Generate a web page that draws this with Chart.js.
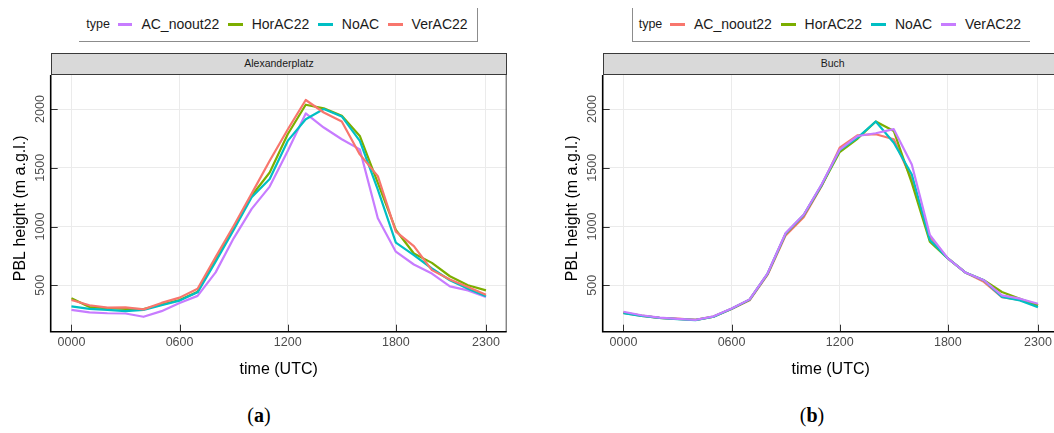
<!DOCTYPE html>
<html>
<head>
  <meta charset="UTF-8">
  <title>PBL height</title>
  <script src="https://cdn.jsdelivr.net/npm/chart.js"></script>
  <style>
    body { margin: 0; width: 1054px; height: 433px; overflow: hidden; background: #fff; position: relative;
           font-family: "Liberation Sans", Arial, sans-serif; }
    .legend { position: absolute; top: 8px; height: 33.7px; box-sizing: border-box; border: 0 solid #8c8c8c;
              display: flex; align-items: center; font-size: 14px; color: #1a1a1a; }
    .legend .title { font-size: 12.5px; margin-right: 8px; }
    .legend .key { width: 17px; height: 2.6px; margin-right: 9px; }
    .legend .lab { margin-right: 9px; white-space: nowrap; }
    .strip { position: absolute; top: 53.3px; height: 21.7px; box-sizing: border-box; background: #d9d9d9;
             border: 1px solid #3a3a3a; font-size: 10.5px; color: #1a1a1a; text-align: center; line-height: 19.5px; z-index: 2; }
    canvas { position: absolute; top: 53px; }
    .cap { position: absolute; top: 404px; font-family: "Liberation Serif", "DejaVu Serif", serif; font-size: 20px; transform: translateX(-50%); }
  </style>
</head>
<body>
  <div class="legend" id="legendA" style="left:79.3px; width:398.4px; padding-left:7px; border-right-width:1px; border-bottom-width:1px;"></div>
  <div class="legend" id="legendB" style="left:631.7px; width:398.3px; padding-left:6px; border-left-width:1px; border-bottom-width:1px;"></div>

  <div class="strip" style="left:50.7px; width:456.5px;">Alexanderplatz</div>
  <div class="strip" style="left:602.7px; width:460px;">Buch</div>

  <canvas id="chartA" width="520" height="335" style="left:0px;"></canvas>
  <canvas id="chartB" width="520" height="335" style="left:552px;"></canvas>

  <div class="cap" style="left:259px;">(<b>a</b>)</div>
  <div class="cap" style="left:812px;">(<b>b</b>)</div>

  <script>
    // hours of the day (UTC)
    const hours = [0, 1, 2, 3, 4, 5, 6, 7, 8, 9, 10, 11, 12, 13, 14, 15, 16, 17, 18, 19, 20, 21, 22, 23];
    const xTickValues = [0, 6, 12, 18, 23];
    const xTickLabels = ['0000', '0600', '1200', '1800', '2300'];
    const yTickValues = [500, 1000, 1500, 2000];
    const seriesNames = ['AC_noout22', 'HorAC22', 'NoAC', 'VerAC22'];

    // Alexanderplatz
    const alexAC_noout22 = [290, 270, 262, 260, 232, 280, 350, 410, 610, 900, 1150, 1340, 1643, 1963, 1843, 1743, 1657, 1071, 786, 677, 600, 491, 457, 400];
    const alexHorAC22    = [390, 315, 305, 300, 297, 337, 375, 445, 720, 985, 1262, 1460, 1786, 2037, 2006, 1943, 1771, 1371, 971, 771, 691, 577, 500, 457];
    const alexNoAC       = [320, 300, 290, 280, 290, 330, 370, 440, 700, 970, 1250, 1405, 1729, 1914, 2000, 1937, 1729, 1314, 863, 757, 643, 543, 471, 406];
    const alexVerAC22    = [375, 330, 310, 312, 295, 350, 395, 470, 740, 1005, 1280, 1560, 1826, 2077, 1971, 1894, 1614, 1429, 957, 834, 629, 549, 486, 420];

    // Buch
    const buchAC_noout22 = [265, 240, 222, 216, 206, 232, 298, 372, 590, 925, 1080, 1345, 1671, 1777, 1786, 1743, 1400, 914, 729, 606, 529, 400, 376, 329];
    const buchHorAC22    = [268, 243, 223, 213, 206, 234, 300, 377, 598, 938, 1095, 1350, 1634, 1749, 1894, 1814, 1371, 871, 729, 606, 543, 443, 386, 329];
    const buchNoAC       = [262, 240, 222, 212, 204, 232, 300, 378, 600, 940, 1098, 1355, 1651, 1757, 1894, 1714, 1443, 886, 729, 606, 543, 400, 371, 314];
    const buchVerAC22    = [275, 245, 225, 214, 206, 236, 302, 380, 602, 945, 1100, 1360, 1655, 1771, 1794, 1829, 1529, 929, 729, 606, 543, 414, 386, 343];

    const salmon = '#F8766D', green = '#7CAE00', cyan = '#00BFC4', purple = '#C77CFF';
    const FONT = '"Liberation Sans", Arial, sans-serif';

    // ticks point into the panel, labels and titles drawn by hand
    const panelAxes = {
      id: 'panelAxes',
      afterDatasetsDraw(chart) {
        const { ctx, chartArea: a, scales: { x, y } } = chart;
        ctx.save();
        ctx.strokeStyle = '#333';
        ctx.lineWidth = 1;
        x.ticks.forEach(t => {
          const px = Math.round(x.getPixelForValue(t.value)) + 0.5;
          ctx.beginPath(); ctx.moveTo(px, a.bottom); ctx.lineTo(px, a.bottom - 7); ctx.stroke();
        });
        y.ticks.forEach(t => {
          const py = Math.round(y.getPixelForValue(t.value)) + 0.5;
          ctx.beginPath(); ctx.moveTo(a.left, py); ctx.lineTo(a.left + 7, py); ctx.stroke();
        });

        // frame
        ctx.strokeStyle = '#4d4d4d';
        ctx.beginPath(); ctx.moveTo(a.right - 0.5, a.top); ctx.lineTo(a.right - 0.5, a.bottom); ctx.stroke();
        ctx.strokeStyle = '#000';
        ctx.lineWidth = 1.6;
        ctx.beginPath(); ctx.moveTo(a.left, a.top); ctx.lineTo(a.left, a.bottom); ctx.lineTo(a.right, a.bottom); ctx.stroke();

        // tick labels
        ctx.fillStyle = '#4d4d4d';
        ctx.font = '12.5px ' + FONT;
        ctx.textAlign = 'center';
        ctx.textBaseline = 'middle';
        x.ticks.forEach((t, i) => ctx.fillText(xTickLabels[i], x.getPixelForValue(t.value), a.bottom + 11));
        y.ticks.forEach(t => {
          ctx.save();
          ctx.translate(a.left - 9.7, y.getPixelForValue(t.value));
          ctx.rotate(-Math.PI / 2);
          ctx.fillText(String(t.value), 0, 0);
          ctx.restore();
        });

        // axis titles
        ctx.fillStyle = '#000';
        ctx.font = '16px ' + FONT;
        ctx.fillText('time (UTC)', (a.left + a.right) / 2, a.bottom + 37.5);
        ctx.save();
        ctx.translate(a.left - 30.5, (a.top + a.bottom) / 2 + 5);
        ctx.rotate(-Math.PI / 2);
        ctx.fillText('PBL height (m a.g.l.)', 0, 0);
        ctx.restore();
        ctx.restore();
      }
    };

    function makeChart(canvasId, values, colors) {
      const ctx = document.getElementById(canvasId).getContext('2d');
      return new Chart(ctx, {
        type: 'line',
        data: {
          datasets: seriesNames.map((name, i) => ({
            label: name,
            data: hours.map((h, j) => ({ x: h, y: values[i][j] })),
            borderColor: colors[i],
            borderWidth: 2.2,
            borderJoinStyle: 'round',
            pointRadius: 0,
            tension: 0,
            fill: false,
            order: 4 - i
          }))
        },
        options: {
          responsive: false,
          animation: false,
          devicePixelRatio: 1,
          layout: { padding: { left: 50.7, right: 13.3, top: 22, bottom: 56.3 } },
          plugins: { legend: { display: false }, tooltip: { enabled: false } },
          scales: {
            x: {
              type: 'linear',
              min: -1.15,
              max: 24.15,
              afterBuildTicks: scale => { scale.ticks = xTickValues.map(v => ({ value: v })); },
              afterFit: scale => { scale.height = 0; },
              ticks: { display: false },
              grid: { color: '#ebebeb', lineWidth: 1, drawTicks: false },
              border: { display: false }
            },
            y: {
              min: 105,
              max: 2290,
              afterBuildTicks: scale => { scale.ticks = yTickValues.map(v => ({ value: v })); },
              afterFit: scale => { scale.width = 0; },
              ticks: { display: false },
              grid: { color: '#ebebeb', lineWidth: 1, drawTicks: false },
              border: { display: false }
            }
          }
        },
        plugins: [panelAxes]
      });
    }

    function makeLegend(id, colors) {
      const box = document.getElementById(id);
      let html = '<span class="title">type</span>';
      seriesNames.forEach((name, i) => {
        html += '<span class="key" style="background:' + colors[i] + '"></span><span class="lab">' + name + '</span>';
      });
      box.innerHTML = html;
    }

    const alexColors = [purple, green, cyan, salmon];
    const buchColors = [salmon, green, cyan, purple];

    makeLegend('legendA', alexColors);
    makeLegend('legendB', buchColors);
    makeChart('chartA', [alexAC_noout22, alexHorAC22, alexNoAC, alexVerAC22], alexColors);
    makeChart('chartB', [buchAC_noout22, buchHorAC22, buchNoAC, buchVerAC22], buchColors);
  </script>
</body>
</html>
